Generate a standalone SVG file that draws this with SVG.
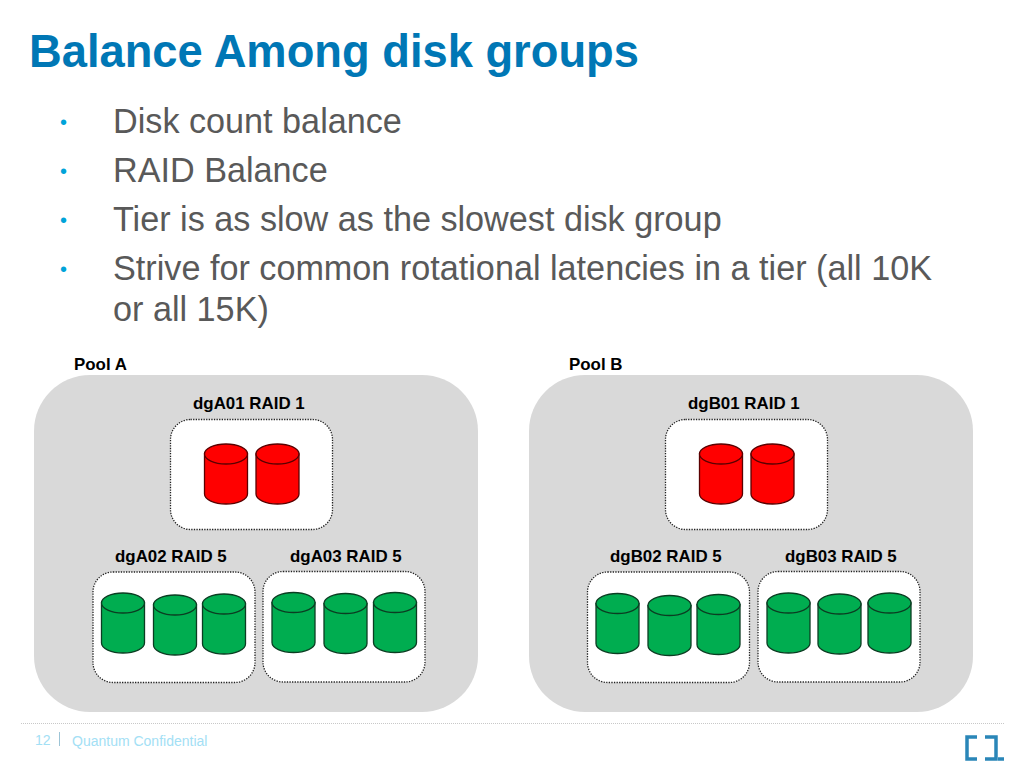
<svg xmlns="http://www.w3.org/2000/svg" width="1024" height="768" viewBox="0 0 1024 768">
<style>
text{font-family:"Liberation Sans",Arial,sans-serif}
.title{font-size:45.3px;font-weight:700;fill:#0077b5}
.body{font-size:34.2px;fill:#595959}
.bul{font-size:20px;fill:#00a3d9}
.lbl{font-size:16.9px;font-weight:700;fill:#000}
.pool{fill:#d9d9d9}
.dg{fill:#fff;stroke:#222;stroke-width:1.3;stroke-dasharray:1.3 1.3}
.foot{font-size:14px;fill:#a3e0f5}
.r{fill:#f00;stroke:#5a0000;stroke-width:1.3}
.g{fill:#00ad50;stroke:#0b3d22;stroke-width:1.3}
</style>
<defs>
<g id="cyl">
<path d="M0 10V50A21.500 10 0 0 0 43 50V10Z"/>
<ellipse cx="21.500" cy="10" rx="21.500" ry="10"/>
</g>
</defs>
<rect width="1024" height="768" fill="#fff"/>
<text class="title" x="29" y="67">Balance Among disk groups</text>
<g id="bullets">
<text class="bul" x="60" y="129">•</text><text class="body" x="113" y="132.500">Disk count balance</text>
<text class="bul" x="60" y="178">•</text><text class="body" x="113" y="181.500">RAID Balance</text>
<text class="bul" x="60" y="227">•</text><text class="body" x="113" y="230.500">Tier is as slow as the slowest disk group</text>
<text class="bul" x="60" y="276">•</text><text class="body" x="113" y="279.500">Strive for common rotational latencies in a tier (all 10K</text>
<text class="body" x="113" y="320.500">or all 15K)</text>
</g>
<g id="poolA">
<text class="lbl" x="74" y="370">Pool A</text>
<rect class="pool" x="34" y="375" width="444" height="337" rx="56"/>
</g>
<g id="poolB">
<text class="lbl" x="569" y="370">Pool B</text>
<rect class="pool" x="529" y="375" width="444" height="337" rx="56"/>
</g>
<g id="dgA01">
<text class="lbl" x="193" y="409">dgA01 RAID 1</text>
<rect class="dg" x="170.500" y="419.500" width="162" height="110" rx="20"/>
<g class="r"><use href="#cyl" x="204.500" y="444"/><use href="#cyl" x="256" y="444"/></g>
</g>
<g id="dgA02">
<text class="lbl" x="115" y="562">dgA02 RAID 5</text>
<rect class="dg" x="93" y="572" width="162" height="110.500" rx="20"/>
<g class="g"><use href="#cyl" x="101.500" y="593"/><use href="#cyl" x="153.500" y="595"/><use href="#cyl" x="202.500" y="594"/></g>
</g>
<g id="dgA03">
<text class="lbl" x="290" y="562">dgA03 RAID 5</text>
<rect class="dg" x="263" y="571.500" width="162" height="110.500" rx="20"/>
<g class="g"><use href="#cyl" x="272" y="592.500"/><use href="#cyl" x="324" y="593.500"/><use href="#cyl" x="373.500" y="592.500"/></g>
</g>
<g id="dgB01">
<text class="lbl" x="688" y="409">dgB01 RAID 1</text>
<rect class="dg" x="665.500" y="419.500" width="162" height="110" rx="20"/>
<g class="r"><use href="#cyl" x="699.500" y="444"/><use href="#cyl" x="751" y="444"/></g>
</g>
<g id="dgB02">
<text class="lbl" x="610" y="562">dgB02 RAID 5</text>
<rect class="dg" x="587.500" y="572" width="162" height="110.500" rx="20"/>
<g class="g"><use href="#cyl" x="596" y="593.500"/><use href="#cyl" x="648" y="595.500"/><use href="#cyl" x="697" y="594.500"/></g>
</g>
<g id="dgB03">
<text class="lbl" x="785" y="562">dgB03 RAID 5</text>
<rect class="dg" x="758" y="571.500" width="162" height="110.500" rx="20"/>
<g class="g"><use href="#cyl" x="767" y="593"/><use href="#cyl" x="818" y="594"/><use href="#cyl" x="868" y="593"/></g>
</g>
<g id="footer">
<line x1="21" y1="723.500" x2="1004" y2="723.500" stroke="#c8c8c8" stroke-dasharray="1 1"/>
<text class="foot" x="35" y="745">12</text>
<line x1="59.500" y1="732" x2="59.500" y2="746" stroke="#9cc4d6"/>
<text class="foot" x="72" y="746">Quantum Confidential</text>
<path d="M977 737H967V759H977M985 737H996V759H985M998 759H1004" fill="none" stroke="#2a86b8" stroke-width="3.500"/>
</g>
</svg>
